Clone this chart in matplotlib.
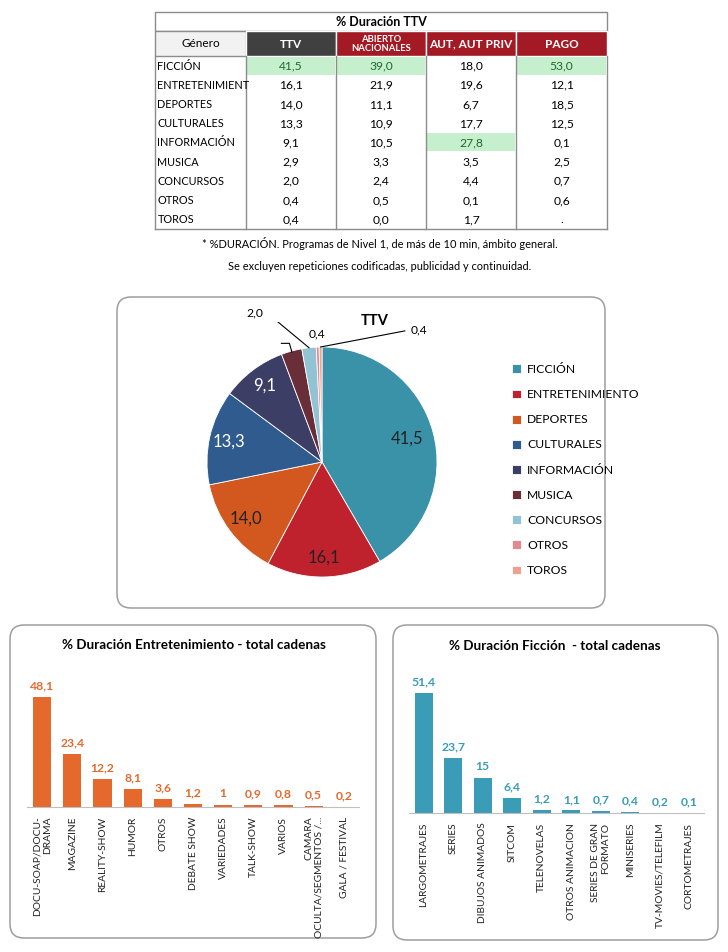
import matplotlib
matplotlib.use('Agg')
import matplotlib.pyplot as plt
from matplotlib.patches import Rectangle, FancyBboxPatch
import numpy as np

plt.rcParams['font.family'] = ['Lato', 'DejaVu Sans']

# --- datos -------------------------------------------------------------
genres = ['FICCIÓN', 'ENTRETENIMIENTO', 'DEPORTES', 'CULTURALES', 'INFORMACIÓN',
          'MUSICA', 'CONCURSOS', 'OTROS', 'TOROS']
ttv = [41.5, 16.1, 14.0, 13.3, 9.1, 2.9, 2.0, 0.4, 0.4]
abierto = [39.0, 21.9, 11.1, 10.9, 10.5, 3.3, 2.4, 0.5, 0.0]
aut = [18.0, 19.6, 6.7, 17.7, 27.8, 3.5, 4.4, 0.1, 1.7]
pago = [53.0, 12.1, 18.5, 12.5, 0.1, 2.5, 0.7, 0.6, None]
col_heads = ['TTV', 'ABIERTO\nNACIONALES', 'AUT, AUT PRIV', 'PAGO']

ent_cats = ['DOCU-SOAP/DOCU-\nDRAMA', 'MAGAZINE', 'REALITY-SHOW', 'HUMOR', 'OTROS',
            'DEBATE SHOW', 'VARIEDADES', 'TALK-SHOW', 'VARIOS',
            'CAMARA\nOCULTA/SEGMENTOS /...', 'GALA / FESTIVAL']
ent_vals = [48.1, 23.4, 12.2, 8.1, 3.6, 1.2, 1, 0.9, 0.8, 0.5, 0.2]

fic_cats = ['LARGOMETRAJES', 'SERIES', 'DIBUJOS ANIMADOS', 'SITCOM', 'TELENOVELAS',
            'OTROS ANIMACION', 'SERIES DE GRAN\nFORMATO', 'MINISERIES',
            'TV-MOVIES/TELEFILM', 'CORTOMETRAJES']
fic_vals = [51.4, 23.7, 15, 6.4, 1.2, 1.1, 0.7, 0.4, 0.2, 0.1]

pie_colors = ['#3A92A8', '#C0222D', '#D2581F', '#2F5B8F', '#3D3E66',
              '#6A2E39', '#92C3D5', '#E5878E', '#EFA08F']

W, H = 728, 952


def fbox(x0, y0, x1, y1):
    return [x0 / W, 1 - y1 / H, (x1 - x0) / W, (y1 - y0) / H]


def fmt(v):
    if v is None:
        return '.'
    return f'{v:.1f}'.replace('.', ',')


fig = plt.figure(figsize=(W / 100, H / 100), dpi=100)
bg = fig.add_axes([0, 0, 1, 1])
bg.set_xlim(0, W)
bg.set_ylim(H, 0)
bg.axis('off')

# --- tabla ---------------------------------------------------------------
xe = [155, 246, 336, 426, 516, 607]
ytop, ytitle, yhead, rowh = 12, 31, 56, 19.2
grid = '#8C8C8C'
cols = [ttv, abierto, aut, pago]

bg.add_patch(Rectangle((xe[0], ytop), xe[-1] - xe[0], ytitle - ytop,
                       facecolor='white', edgecolor=grid, lw=1))
bg.text((xe[0] + xe[-1]) / 2, (ytop + ytitle) / 2 + 1, '% Duración TTV',
        ha='center', va='center', fontsize=9, fontweight='bold')

head_fc = ['#F2F2F2', '#404040', '#A31A25', '#A31A25', '#A31A25']
for j in range(5):
    bg.add_patch(Rectangle((xe[j], ytitle), xe[j + 1] - xe[j], yhead - ytitle,
                           facecolor=head_fc[j], edgecolor=grid if j == 0 else 'white', lw=1))
bg.text((xe[0] + xe[1]) / 2, (ytitle + yhead) / 2, 'Género', ha='center',
        va='center', fontsize=8.5)
for j, h in enumerate(col_heads):
    bg.text((xe[j + 1] + xe[j + 2]) / 2, (ytitle + yhead) / 2 + 0.5, h,
            ha='center', va='center', color='white', fontweight='bold',
            fontsize=6.8 if '\n' in h else 8.5, linespacing=0.95)

nrow = len(genres)
for j, c in enumerate(cols):
    vals = [v if v is not None else -1 for v in c]
    best = int(np.argmax(vals))
    x0 = xe[j + 1]
    bg.add_patch(Rectangle((x0 + 1, yhead + best * rowh + 0.5), xe[j + 2] - x0 - 2, rowh - 1,
                           facecolor='#C6EFCE', edgecolor='none'))
    for i, v in enumerate(c):
        bg.text((x0 + xe[j + 2]) / 2, yhead + (i + 0.5) * rowh + 0.5, fmt(v),
                ha='center', va='center', fontsize=8.7,
                color='#1E6B2A' if i == best else 'black')
for i, g in enumerate(genres):
    bg.text(xe[0] + 2.5, yhead + (i + 0.5) * rowh + 0.5, g[:14], ha='left', va='center',
            fontsize=7.8)
ybot = yhead + nrow * rowh
for x in xe:
    bg.plot([x, x], [yhead, ybot], color=grid, lw=1)
bg.plot([xe[0], xe[-1]], [ybot, ybot], color=grid, lw=1)

bg.text(380, 243, '* %DURACIÓN. Programas de Nivel 1, de más de 10 min, ámbito general.',
        ha='center', va='center', fontsize=7.9)
bg.text(380, 267, 'Se excluyen repeticiones codificadas, publicidad y continuidad.',
        ha='center', va='center', fontsize=7.9)

# --- cajas redondeadas --------------------------------------------------
for (x0, y0, x1, y1) in [(117, 297, 605, 608), (10, 625, 376, 938), (393, 625, 718, 940)]:
    bg.add_patch(FancyBboxPatch((x0, y0), x1 - x0, y1 - y0,
                                boxstyle='round,pad=0,rounding_size=14',
                                facecolor='white', edgecolor='#9E9E9E', lw=1.1))

# --- tarta --------------------------------------------------------------
cx, cy, R = 322, 462, 115
span = 1.22
pax = fig.add_axes(fbox(cx - span * R, cy - span * R, cx + span * R, cy + span * R))
pax.set_facecolor('none')
wedges, _ = pax.pie(ttv, colors=pie_colors, startangle=90, counterclock=False, radius=1,
                    wedgeprops=dict(edgecolor='white', linewidth=0.6))
pax.set_xlim(-span, span)
pax.set_ylim(-span, span)
pax.set_aspect('equal')
pax.axis('off')
pax.text(0.46, 1.23, 'TTV', ha='center', va='center', fontsize=10.5, fontweight='bold')

white_lbl = {3, 4}
small_pos = {6: (-0.58, 1.30), 7: (-0.04, 1.11), 8: (0.84, 1.15)}
for i, (w, v) in enumerate(zip(wedges, ttv)):
    th = np.deg2rad((w.theta1 + w.theta2) / 2)
    if v >= 5:
        r = 0.77 if i == 0 else 0.83
        pax.text(r * np.cos(th), r * np.sin(th), fmt(v), ha='center', va='center',
                 fontsize=12, color='white' if i in white_lbl else '#222222')
    elif i in small_pos:
        tx, ty = small_pos[i]
        pax.text(tx, ty, fmt(v), ha='center', va='center', fontsize=8.7)
        if i != 7:
            sx = tx + (0.11 if tx < 0 else -0.12)
            pax.plot([sx, np.cos(th)], [ty - 0.01, np.sin(th) * 1.0], color='black', lw=0.8)
    else:
        ex, ey = np.cos(th) * 1.07, np.sin(th) * 1.07
        pax.plot([ex - 0.07, ex, np.cos(th) * 0.99], [ey, ey, np.sin(th) * 0.99],
                 color='black', lw=0.8)

pax.legend(wedges, genres, loc='upper left', bbox_to_anchor=(506 / W, 1 - 358 / H),
           bbox_transform=fig.transFigure, frameon=False, fontsize=8.7,
           handlelength=0.75, handleheight=0.75, handletextpad=0.5,
           labelspacing=1.17, borderpad=0)


# --- barras -------------------------------------------------------------
def bars(box, cats, vals, color, title, title_xy):
    ax = fig.add_axes(fbox(*box))
    ax.set_facecolor('none')
    x = np.arange(len(cats))
    ax.bar(x, vals, width=0.6, color=color)
    for xi, v in zip(x, vals):
        ax.annotate(f'{v:g}'.replace('.', ','), (xi, v), xytext=(0, 4),
                    textcoords='offset points', ha='center', va='bottom',
                    fontsize=8.7, fontweight='bold', color=color)
    ax.set_xlim(-0.5, len(cats) - 0.5)
    ax.set_ylim(0, 60)
    ax.set_xticks(x)
    ax.set_xticklabels(cats, rotation=90, va='top', ha='center',
                       multialignment='right', fontsize=7.4, color='#222222')
    ax.tick_params(axis='x', length=0, pad=7)
    ax.set_yticks([])
    for s in ['top', 'left', 'right']:
        ax.spines[s].set_visible(False)
    ax.spines['bottom'].set_color('#BFBFBF')
    bg.text(title_xy[0], title_xy[1], title, ha='center', va='center',
            fontsize=9.7, fontweight='bold')


bars((27, 670, 359, 807), ent_cats, ent_vals, '#E5692C',
     '% Duración Entretenimiento - total cadenas', (194, 645))
bars((409, 673, 704, 813), fic_cats, fic_vals, '#3A9CB7',
     '% Duración Ficción  - total cadenas', (555, 646))

fig.savefig('out.png', dpi=100)
